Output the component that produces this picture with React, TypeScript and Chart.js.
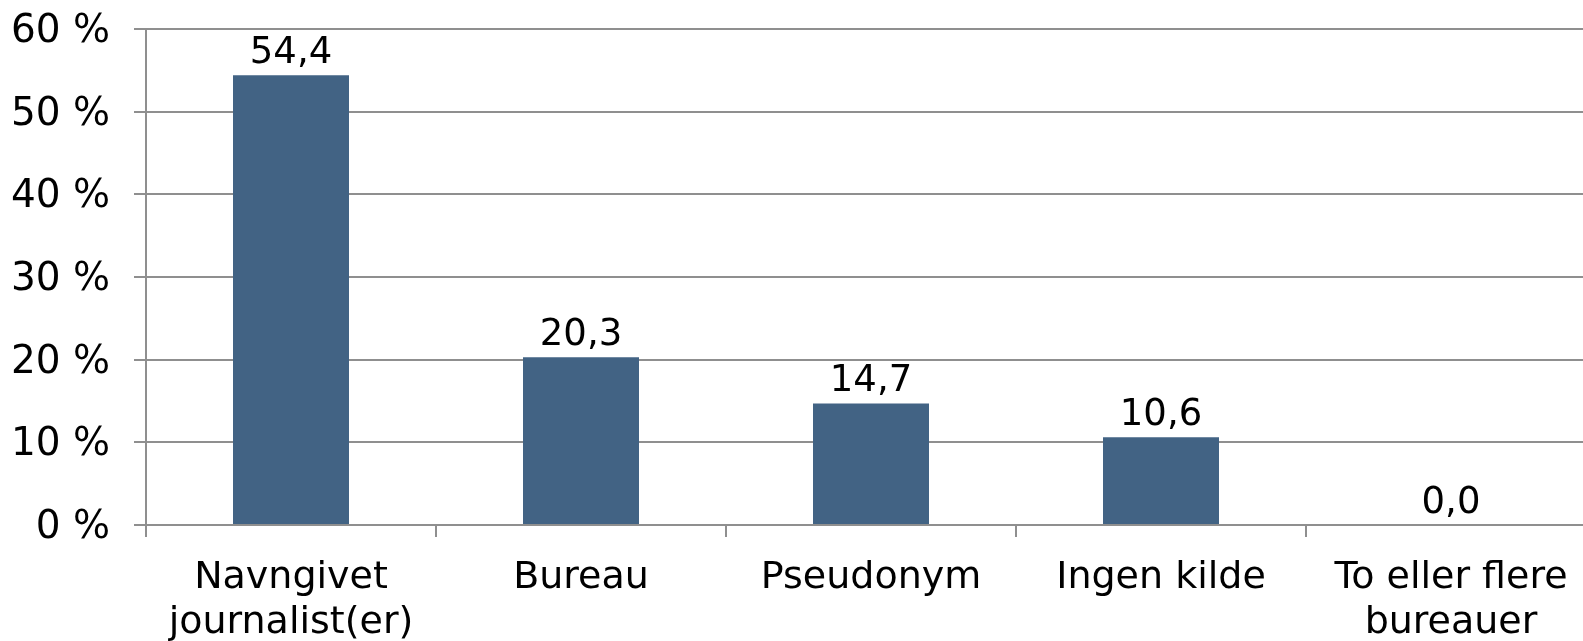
import React, { useEffect, useRef } from "react";
import { Chart, registerables } from "chart.js";

Chart.register(...registerables);

const categories: (string | string[])[] = [
  ["Navngivet", "journalist(er)"],
  "Bureau",
  "Pseudonym",
  "Ingen kilde",
  ["To eller flere", "bureauer"],
];
const values: number[] = [54.4, 20.3, 14.7, 10.6, 0.0];
const yTicks: number[] = [0, 10, 20, 30, 40, 50, 60];

const FONT = "'DejaVu Sans', Verdana, sans-serif";
const GRID = "#8f8f8f";
const BAR = "#426384";

const valueLabels = {
  id: "valueLabels",
  afterDatasetsDraw(chart: any) {
    const ctx = chart.ctx;
    const meta = chart.getDatasetMeta(0);
    ctx.save();
    ctx.font = `37px ${FONT}`;
    ctx.fillStyle = "#000";
    ctx.textAlign = "center";
    ctx.textBaseline = "alphabetic";
    meta.data.forEach((bar: any, i: number) => {
      const txt = values[i].toFixed(1).replace(".", ",");
      ctx.fillText(txt, bar.x, bar.y - 12);
    });
    ctx.restore();
  },
};

export default function App() {
  const ref = useRef<HTMLCanvasElement | null>(null);
  useEffect(() => {
    document.body.style.margin = "0";
    const canvas = ref.current!;
    const chart = new Chart(canvas, {
      type: "bar",
      data: {
        labels: categories,
        datasets: [
          {
            data: values,
            backgroundColor: BAR,
            borderWidth: 0,
            barPercentage: 0.4,
            categoryPercentage: 1,
          },
        ],
      },
      options: {
        responsive: false,
        animation: false,
        devicePixelRatio: 1,
        layout: { padding: { top: 29, right: 0, left: 0, bottom: 0 } },
        plugins: {
          legend: { display: false },
          tooltip: { enabled: false },
        },
        scales: {
          x: {
            offset: true,
            grid: {
              offset: true,
              drawOnChartArea: false,
              drawTicks: true,
              tickLength: 12,
              color: GRID,
              lineWidth: 2,
            },
            border: { display: true, color: GRID, width: 2 },
            ticks: {
              color: "#000",
              font: { family: FONT, size: 38, lineHeight: 1.18 },
              padding: 19,
              maxRotation: 0,
              autoSkip: false,
            },
            afterFit(scale: any) {
              scale.height = 116;
              scale.paddingLeft = 0;
              scale.paddingRight = 0;
            },
          },
          y: {
            min: 0,
            max: 60,
            afterBuildTicks(scale: any) {
              scale.ticks = yTicks.map((v) => ({ value: v }));
            },
            grid: {
              color: GRID,
              lineWidth: 2,
              tickLength: 12,
              drawTicks: true,
            },
            border: { display: true, color: GRID, width: 2 },
            ticks: {
              color: "#000",
              font: { family: FONT, size: 39 },
              padding: 24,
              labelOffset: 3,
              callback: (v: any) => `${v} %`,
            },
            afterFit(scale: any) {
              scale.width = 146;
              scale.paddingTop = 0;
              scale.paddingBottom = 0;
            },
          },
        },
      },
      plugins: [valueLabels],
    });
    return () => chart.destroy();
  }, []);
  return (
    <div
      style={{
        position: "absolute",
        left: 0,
        top: 0,
        width: 1583,
        height: 641,
        overflow: "hidden",
        background: "#fff",
      }}
    >
      <canvas ref={ref} width={1596} height={641} style={{ display: "block" }} />
    </div>
  );
}
